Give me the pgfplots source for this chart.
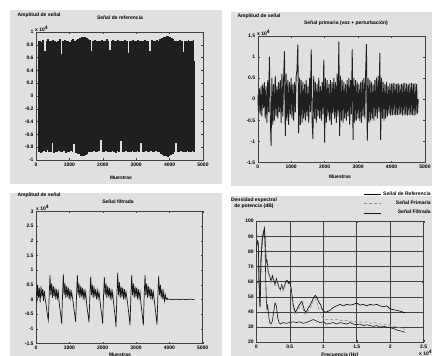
\documentclass[border=0pt]{standalone}
\usepackage{pgfplots}
\pgfplotsset{compat=1.18}
\usepackage{fontspec}
\setmainfont{Liberation Sans}
\definecolor{bg}{RGB}{224,224,224}
\newcommand\lbl{\fontsize{5}{6}\selectfont\bfseries}
\pgfplotsset{
  panel/.style={
    scale only axis, anchor=south west,
    axis background/.style={fill=bg},
    axis line style={black!75, line width=0.4pt},
    tick style={black!75, line width=0.3pt},
    major tick length=2pt, tick align=inside,
    tick label style={font=\lbl},
    /pgf/number format/assume math mode=true,
    /pgf/number format/set thousands separator={},
    scaled ticks=false,
    xticklabel style={yshift=1pt},
    yticklabel style={xshift=1pt},
  },
  muestras/.style={xmin=0, xmax=5000, xtick={0,1000,2000,3000,4000,5000}},
}
\begin{document}
\begin{tikzpicture}
\useasboundingbox (0,0) rectangle (432pt,-356pt);
\fill[white] (0,0) rectangle (432pt,-356pt);
\fill[bg] (10pt,-10pt) rectangle (222pt,-184pt);
\fill[bg] (231pt,-12pt) rectangle (432pt,-186pt);
\fill[bg] (10pt,-193pt) rectangle (222pt,-356pt);
\fill[bg] (231pt,-196pt) rectangle (432pt,-356pt);

% ---------- Panel 1: Senal de referencia
\begin{axis}[panel, muestras, at={(36pt,-160pt)}, width=167pt, height=128pt,
  ymin=-1, ymax=1, ytick={-1,-0.8,-0.6,-0.4,-0.2,0,0.2,0.4,0.6,0.8,1}]
\addplot[black!88, line width=0.75pt, const plot] coordinates {
(50,0.86)(75,-0.87)(100,0.85)(125,-0.88)(150,0.84)(175,-0.86)(200,0.87)(225,-0.85)(250,0.70)(275,-0.86)
(300,0.86)(325,-0.84)(350,0.88)(375,-0.87)(400,0.85)(425,-0.86)(450,0.86)(475,-0.72)(500,0.87)(525,-0.88)
(550,0.85)(575,-0.86)(600,0.84)(625,-0.87)(650,0.86)(675,-0.85)(700,0.88)(725,-0.86)(750,0.65)(775,-0.87)
(800,0.86)(825,-0.85)(850,0.87)(875,-0.88)(900,0.85)(925,-0.86)(950,0.86)(975,-0.87)(1000,0.84)(1025,-0.85)
(1050,0.87)(1075,-0.86)(1100,0.88)(1125,-0.74)(1150,0.86)(1175,-0.88)(1200,0.87)(1225,-0.89)(1250,0.89)(1275,-0.90)
(1300,0.90)(1325,-0.92)(1350,0.91)(1375,-0.93)(1400,0.92)(1425,-0.92)(1450,0.91)(1475,-0.91)(1500,0.90)(1525,-0.89)
(1550,0.88)(1575,-0.87)(1600,0.87)(1625,-0.86)(1650,0.70)(1675,-0.86)(1700,0.86)(1725,-0.85)(1750,0.87)(1775,-0.86)
(1800,0.85)(1825,-0.87)(1850,0.86)(1875,-0.85)(1900,0.86)(1925,-0.68)(1950,0.87)(1975,-0.86)(2000,0.85)(2025,-0.87)
(2050,0.86)(2075,-0.85)(2100,0.88)(2125,-0.86)(2150,0.85)(2175,-0.87)(2200,0.72)(2225,-0.86)(2250,0.86)(2275,-0.85)
(2300,0.87)(2325,-0.86)(2350,0.85)(2375,-0.88)(2400,0.86)(2425,-0.85)(2450,0.87)(2475,-0.86)(2500,0.85)(2525,-0.70)
(2550,0.86)(2575,-0.87)(2600,0.85)(2625,-0.86)(2650,0.87)(2675,-0.85)(2700,0.86)(2725,-0.87)(2750,0.66)(2775,-0.86)
(2800,0.85)(2825,-0.87)(2850,0.86)(2875,-0.85)(2900,0.87)(2925,-0.86)(2950,0.85)(2975,-0.87)(3000,0.86)(3025,-0.85)
(3050,0.87)(3075,-0.86)(3100,0.85)(3125,-0.73)(3150,0.86)(3175,-0.87)(3200,0.85)(3225,-0.86)(3250,0.87)(3275,-0.85)
(3300,0.86)(3325,-0.87)(3350,0.85)(3375,-0.86)(3400,0.69)(3425,-0.85)(3450,0.87)(3475,-0.86)(3500,0.85)(3525,-0.87)
(3550,0.86)(3575,-0.85)(3600,0.87)(3625,-0.86)(3650,0.86)(3675,-0.87)(3700,0.88)(3725,-0.89)(3750,0.90)(3775,-0.91)
(3800,0.91)(3825,-0.92)(3850,0.92)(3875,-0.93)(3900,0.93)(3925,-0.94)(3950,0.93)(3975,-0.93)(4000,0.92)(4025,-0.91)
(4050,0.90)(4075,-0.89)(4100,0.88)(4125,-0.87)(4150,0.86)(4175,-0.72)(4200,0.86)(4225,-0.87)(4250,0.85)(4275,-0.86)
(4300,0.87)(4325,-0.85)(4350,0.86)(4375,-0.87)(4400,0.68)(4425,-0.86)(4450,0.85)(4475,-0.87)(4500,0.86)(4525,-0.85)
(4550,0.87)(4575,-0.86)(4600,0.85)(4625,-0.87)(4650,0.86)(4675,-0.85)(4700,0.87)(4725,-0.86)(4750,0.55)
};
\end{axis}

% ---------- Panel 2: Senal primaria
\begin{axis}[panel, muestras, at={(257.7pt,-162.5pt)}, width=167.3pt, height=126.5pt,
  ymin=-1.5, ymax=1.5, ytick={-1.5,-1,-0.5,0,0.5,1,1.5}]
\addplot[black!88, line width=0.9pt, line join=round] coordinates {
(0,0.1)(25,-0.3)(50,0.25)(75,-0.35)(100,0.3)(125,-0.4)(150,0.35)(175,-0.2)(200,0.4)(225,-0.45)
(250,0.3)(275,-0.55)(300,0.45)(325,-0.3)(350,1.0)(375,-0.4)(400,-1.1)(425,0.5)(450,-0.6)(475,0.35)
(500,-0.5)(525,0.55)(550,-0.4)(575,0.3)(600,-0.45)(625,0.4)(650,-0.3)(675,0.45)(700,-0.55)(725,0.6)
(750,-0.4)(775,0.5)(800,1.13)(825,-0.86)(850,0.6)(875,-0.5)(900,0.45)(925,-0.6)(950,0.4)(975,-0.35)
(1000,0.5)(1025,-0.45)(1050,0.35)(1075,-0.5)(1100,0.4)(1125,-0.3)(1150,0.55)(1175,0.7)(1200,1.29)(1225,-0.8)
(1250,0.5)(1275,-0.6)(1300,0.45)(1325,-0.55)(1350,0.4)(1375,-0.45)(1400,0.35)(1425,-0.5)(1450,0.45)(1475,-0.4)
(1500,0.3)(1525,-0.55)(1550,0.5)(1575,-0.3)(1600,1.17)(1625,-0.5)(1650,-0.93)(1675,0.55)(1700,-0.45)(1725,0.4)
(1750,-0.55)(1775,0.35)(1800,-0.4)(1825,0.5)(1850,-0.45)(1875,0.3)(1900,-0.5)(1925,0.4)(1950,-0.35)(1975,0.93)
(2000,-1.02)(2025,0.5)(2050,-0.55)(2075,0.45)(2100,-0.4)(2125,0.35)(2150,-0.5)(2175,0.45)(2200,-0.6)(2225,0.4)
(2250,-0.35)(2275,0.5)(2300,-0.45)(2325,0.4)(2350,-0.55)(2375,0.6)(2400,-0.4)(2425,1.36)(2450,-0.86)(2475,0.55)
(2500,-0.5)(2525,0.45)(2550,-0.55)(2575,0.4)(2600,-0.45)(2625,0.35)(2650,-0.5)(2675,0.45)(2700,-0.4)(2725,0.5)
(2750,-0.6)(2775,0.45)(2800,-0.35)(2825,1.18)(2850,-0.96)(2875,0.5)(2900,-0.55)(2925,0.45)(2950,-0.5)(2975,0.4)
(3000,-0.45)(3025,0.35)(3050,-0.5)(3075,0.4)(3100,-0.55)(3125,0.45)(3150,-0.4)(3175,0.5)(3200,-0.45)(3225,0.6)
(3250,1.3)(3275,-0.98)(3300,0.5)(3325,-0.55)(3350,0.45)(3375,-0.5)(3400,0.4)(3425,-0.45)(3450,0.35)(3475,-0.5)
(3500,0.45)(3525,-0.4)(3550,0.5)(3575,-0.45)(3600,0.55)(3625,-0.3)(3650,1.09)(3675,-0.96)(3700,0.5)(3725,-0.45)
(3750,0.4)(3775,-0.5)(3800,0.35)(3825,-0.45)(3850,0.4)(3875,-0.4)(3900,0.3)(3925,-0.35)
(3950,0.37)(3975,-0.38)(4000,0.36)(4025,-0.37)(4050,0.38)(4075,-0.36)(4100,0.37)(4125,-0.38)(4150,0.35)(4175,-0.37)
(4200,0.38)(4225,-0.36)(4250,0.34)(4275,-0.35)(4300,0.36)(4325,-0.38)(4350,0.37)(4375,-0.36)(4400,0.38)(4425,-0.37)
(4450,0.36)(4475,-0.38)(4500,0.35)(4525,-0.37)(4550,0.37)(4575,-0.36)(4600,0.38)(4625,-0.37)(4650,0.36)(4675,-0.38)
(4700,0.37)(4725,-0.36)(4750,0.35)(4775,-0.33)(4800,0)
};
\end{axis}

% ---------- Panel 3: Senal filtrada
\begin{axis}[panel, muestras, at={(36pt,-343.5pt)}, width=166.7pt, height=132.2pt,
  ymin=-1.5, ymax=3, ytick={-1.5,-1,-0.5,0,0.5,1,1.5,2,2.5,3}]
\addplot[black!90, line width=0.7pt] coordinates {
(0,0.3)(25,-0.1)(50,0.5)(75,0.05)(100,0.4)(125,-0.1)(150,0.45)(175,0.1)(200,0.35)(225,-0.05)(250,0.3)(275,0.0)
(295,-0.1)(320,-0.35)(345,-0.55)(370,-0.71)(395,0.1)(420,0.83)(445,0.15)(470,0.55)(495,0.05)(520,0.45)(545,0.1)(570,0.4)(595,0.0)(620,0.35)(645,0.05)(670,0.25)
(695,-0.1)(720,-0.35)(745,-0.55)(770,-0.82)(795,0.1)(820,0.85)(845,0.15)(870,0.55)(895,0.05)(920,0.45)(945,0.1)(970,0.4)(995,0.0)(1020,0.35)(1045,0.05)(1070,0.25)
(1115,-0.1)(1140,-0.35)(1165,-0.55)(1190,-0.76)(1215,0.1)(1240,0.83)(1265,0.15)(1290,0.55)(1315,0.05)(1340,0.45)(1365,0.1)(1390,0.4)(1415,0.0)(1440,0.35)(1465,0.05)(1490,0.25)
(1515,-0.1)(1540,-0.35)(1565,-0.55)(1590,-0.78)(1615,0.1)(1640,0.78)(1665,0.15)(1690,0.5)(1715,0.05)(1740,0.45)(1765,0.1)(1790,0.35)(1815,0.0)(1840,0.3)(1865,0.05)(1890,0.25)
(1925,-0.1)(1950,-0.35)(1975,-0.55)(2000,-0.82)(2025,0.1)(2050,0.76)(2075,0.15)(2100,0.55)(2125,0.05)(2150,0.45)(2175,0.1)(2200,0.4)(2225,0.0)(2250,0.35)(2275,0.05)(2300,0.25)
(2325,-0.1)(2350,-0.35)(2375,-0.6)(2400,-0.93)(2425,0.1)(2450,0.9)(2475,0.15)(2500,0.6)(2525,0.05)(2550,0.45)(2575,0.1)(2600,0.4)(2625,0.0)(2650,0.35)(2675,0.05)(2700,0.25)
(2745,-0.1)(2770,-0.35)(2795,-0.6)(2820,-0.88)(2845,0.1)(2870,0.83)(2895,0.15)(2920,0.55)(2945,0.05)(2970,0.45)(2995,0.1)(3020,0.4)(3045,0.0)(3070,0.35)(3095,0.05)(3120,0.25)
(3145,-0.1)(3170,-0.35)(3195,-0.6)(3220,-0.88)(3245,0.1)(3270,0.83)(3295,0.15)(3320,0.55)(3345,0.05)(3370,0.45)(3395,0.1)(3420,0.4)(3445,0.0)(3470,0.35)(3495,0.05)(3520,0.25)
(3555,-0.1)(3580,-0.35)(3605,-0.6)(3630,-0.86)(3655,0.1)(3680,0.8)(3705,0.15)(3730,0.5)(3755,0.05)(3780,0.35)(3805,0.0)(3830,0.25)(3855,-0.05)(3880,0.15)(3905,0.0)(3930,0.05)
(3950,0.0)(4000,0.01)(4100,-0.01)(4200,0.01)(4300,-0.01)(4400,0.01)(4500,-0.01)(4600,0.01)(4700,0.0)(4750,0.0)
};
\end{axis}

% ---------- Panel 4: Densidad espectral
\begin{axis}[panel, at={(256.3pt,-342.2pt)}, width=167.4pt, height=121pt,
  xmin=0, xmax=2.5, ymin=20, ymax=100,
  xtick={0,0.5,1,1.5,2,2.5}, ytick={20,30,40,50,60,70,80,90,100},
  grid=major, major grid style={black!75, line width=0.5pt},
  legend style={at={(1.055,1.03)}, anchor=south east, draw=none, fill=none,
    font=\lbl, inner sep=0pt, row sep=0.3pt},
  legend cell align=right]
\addplot[black, line width=0.6pt] coordinates {
(0,80)(0.01,86)(0.02,87)(0.03,85)(0.04,60)(0.055,44)(0.07,75)(0.09,88)(0.11,93)(0.122,95.5)(0.135,85)(0.15,73)(0.16,74)
(0.18,66)(0.20,64)(0.22,60)(0.24,64)(0.26,61)(0.28,58)(0.30,62)(0.32,59)(0.34,56)(0.36,55)(0.38,58)(0.40,55)
(0.42,57)(0.44,60)(0.46,61)(0.48,59)(0.50,60)(0.52,56)(0.55,45)(0.58,40)(0.60,41)(0.62,43)(0.66,46)(0.68,47)
(0.70,44)(0.72,41)(0.74,40)(0.76,41)(0.78,43)(0.80,44)(0.82,46)(0.85,49)(0.88,51)(0.90,50)(0.92,48)(0.94,46)
(0.96,45)(0.98,42)(1.00,41)(1.02,40)(1.05,40)(1.10,41)(1.15,43)(1.20,44)(1.25,45)(1.30,44)(1.35,45)(1.40,44.5)
(1.45,45)(1.50,46)(1.55,44.5)(1.60,45)(1.65,44)(1.70,45)(1.75,44.5)(1.80,45)(1.85,44)(1.90,43.5)(1.95,44)
(2.00,42)(2.05,41.5)(2.10,41)(2.15,40.5)(2.22,39.5)
};
\addlegendentry{Señal de Referencia}
\addplot[black!45, densely dashed, line width=0.6pt] coordinates {
(0,82)(0.01,87)(0.02,86)(0.03,83)(0.04,58)(0.055,45)(0.07,77)(0.09,90)(0.11,94)(0.122,95)(0.135,84)(0.15,72)(0.16,72)
(0.18,65)(0.20,63)(0.22,59)(0.24,63)(0.26,60)(0.28,57)(0.30,61)(0.32,58)(0.34,55)(0.36,54)(0.38,57)(0.40,54)
(0.42,56)(0.44,59)(0.46,60)(0.48,58)(0.50,59)(0.52,54)(0.55,42)(0.58,38)(0.60,39)(0.62,41)(0.66,44)(0.68,45)
(0.70,42)(0.72,39)(0.74,38.5)(0.76,39)(0.78,41)(0.80,42)(0.82,44)(0.85,47)(0.88,49)(0.90,47)(0.92,44)(0.94,41)
(0.96,38)(0.98,37)(1.00,36)(1.05,35)(1.10,35.5)(1.15,34.5)(1.20,35)(1.25,34.5)(1.30,34)(1.35,34.5)(1.40,34)
(1.45,33.5)(1.50,34)(1.55,33.5)(1.60,33)(1.65,33.5)(1.70,32.5)(1.75,33)(1.80,32.5)(1.85,32)(1.90,31.5)(1.95,32)
(2.00,31)(2.05,30.5)(2.10,30)(2.15,29.5)(2.22,28.5)
};
\addlegendentry{Señal Primaria}
\addplot[black!90, line width=0.6pt] coordinates {
(0,80)(0.01,86)(0.02,87)(0.03,84)(0.04,62)(0.055,43)(0.07,74)(0.09,89)(0.11,93)(0.122,95)(0.13,85)(0.14,62)(0.15,48)
(0.16,42)(0.17,44)(0.18,40)(0.19,36)(0.20,33)(0.22,32)(0.24,34)(0.26,40)(0.28,46)(0.30,44)(0.32,36)(0.34,33)
(0.36,32)(0.40,33)(0.45,32.5)(0.50,33)(0.55,33.5)(0.60,33)(0.65,33.5)(0.70,32.5)(0.75,33)(0.80,34)(0.85,35)
(0.90,34)(0.95,33)(1.00,33.5)(1.05,32)(1.10,32.5)(1.15,33)(1.20,32)(1.25,33)(1.30,32.5)(1.35,32)(1.40,33)
(1.45,32)(1.50,31.5)(1.55,32)(1.60,31)(1.65,31.5)(1.70,31)(1.75,30.5)(1.80,31)(1.85,30)(1.90,30.5)(1.95,30)
(2.00,29.5)(2.05,29)(2.10,28)(2.15,27.5)(2.22,26.5)
};
\addlegendentry{Señal Filtrada}
\end{axis}

% ---------- texts
\node[font=\lbl, anchor=west] at (14pt,-15.7pt) {Amplitud de señal};
\node[font=\lbl] at (120pt,-18pt) {Señal de referencia};
\node[font=\lbl] at (121pt,-178pt) {Muestras};
\node[font=\lbl, anchor=south west, inner sep=0pt] at (35pt,-32pt) {x 10\textsuperscript{4}};

\node[font=\lbl, anchor=west] at (234pt,-16pt) {Amplitud de señal};
\node[font=\lbl] at (346pt,-23pt) {Señal primaria (voz + perturbación)};
\node[font=\lbl] at (340pt,-177pt) {Muestras};
\node[font=\lbl, anchor=south west, inner sep=0pt] at (257pt,-36pt) {x 10\textsuperscript{4}};

\node[font=\lbl, anchor=west] at (14pt,-195pt) {Amplitud de señal};
\node[font=\lbl] at (118pt,-202pt) {Señal filtrada};
\node[font=\lbl, anchor=north, inner sep=1pt] at (120pt,-351.5pt) {Muestras};
\node[font=\lbl, anchor=south west, inner sep=0pt] at (36pt,-211pt) {x 10\textsuperscript{4}};

\node[font=\lbl, align=center] at (254pt,-203.5pt) {Densidad espectral\\de potencia (dB)};
\node[font=\lbl, anchor=north, inner sep=1pt] at (340pt,-351.5pt) {Frecuencia (Hz)};
\node[font=\lbl, anchor=north west, inner sep=0pt] at (419pt,-350pt) {x 10\textsuperscript{4}};
\end{tikzpicture}
\end{document}
